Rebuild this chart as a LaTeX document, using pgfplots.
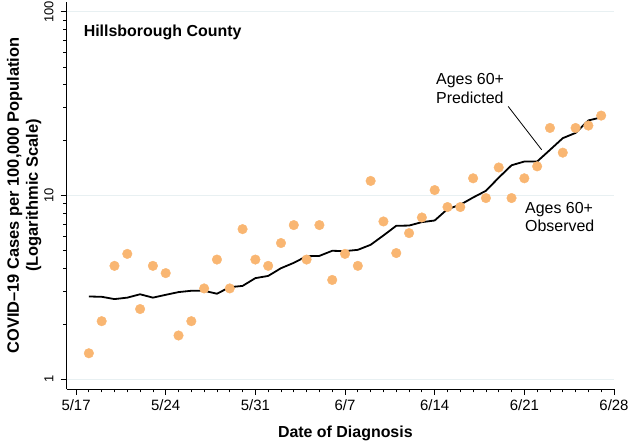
\documentclass[border=0pt]{standalone}
\usepackage{fontspec}
\setmainfont{Liberation Sans}
\usepackage{pgfplots}
\pgfplotsset{compat=1.18}
\definecolor{dotc}{HTML}{F9B672}
\definecolor{gridc}{HTML}{E8F0F2}
\begin{document}
\begin{tikzpicture}
\begin{semilogyaxis}[
    scale only axis,
    width=547.3bp, height=387bp,
    xmin=-0.73, xmax=42,
    ymin=0.885, ymax=112.9,
    axis x line*=bottom, axis y line*=left,
    axis line style={black, line width=0.8bp},
    tick align=outside,
    major tick length=6bp, minor tick length=3.5bp,
    tick style={black, line width=0.8bp},
    xtick={0,7,...,42},
    xticklabels={5/17,5/24,5/31,6/7,6/14,6/21,6/28},
    minor xtick={0,...,42},
    ytick={1,10,100},
    yticklabels={1,10,100},
    minor ytick={2,3,4,5,6,7,8,9,20,30,40,50,60,70,80,90},
    /pgf/number format/assume math mode=true,
    xticklabel style={font=\fontsize{15}{18}\selectfont, inner sep=0pt},
    xticklabel shift=5bp,
    yticklabel style={font=\fontsize{13}{15}\selectfont, rotate=90, anchor=south, inner sep=0pt},
    yticklabel shift=7bp,
    ymajorgrids,
    major grid style={gridc, line width=1bp},
    xlabel={Date of Diagnosis},
    every axis x label/.style={at={(axis description cs:0.5,0)}, anchor=base, yshift=-48.3bp, xshift=5bp, font=\bfseries\fontsize{16}{19}\selectfont},
    ylabel={COVID–19 Cases per 100,000 Population\\(Logarithmic Scale)},
    every axis y label/.style={at={(axis description cs:-0.1096,0.5)}, rotate=90, anchor=north, inner sep=0pt, align=center, font=\bfseries\fontsize{16.5}{19}\selectfont},
]
% observed
\addplot[color=dotc, only marks, mark=*, mark size=4.8bp, mark options={solid, fill=dotc, draw=dotc}] coordinates {
(1,1.385) (2,2.07) (3,4.14) (4,4.81) (5,2.41) (6,4.14) (7,3.78) (8,1.73)
(9,2.07) (10,3.12) (11,4.48) (12,3.12) (13,6.56) (14,4.48) (15,4.14) (16,5.51)
(17,6.90) (18,4.48) (19,6.90) (20,3.47) (21,4.81) (22,4.14) (23,12.0) (24,7.22)
(25,4.86) (26,6.24) (27,7.59) (28,10.7) (29,8.65) (30,8.65) (31,12.4) (32,9.68)
(33,14.2) (34,9.68) (35,12.4) (36,14.4) (37,23.3) (38,17.1) (39,23.3) (40,24.0)
(41,27.2)
};
% predicted
\addplot[black, line width=1.8bp, line join=round, no markers] coordinates {
(1,2.82) (2,2.81) (3,2.73) (4,2.78) (5,2.90) (6,2.78) (7,2.88) (8,2.98)
(9,3.03) (10,3.03) (11,2.92) (12,3.17) (13,3.22) (14,3.55) (15,3.65) (16,4.02)
(17,4.30) (18,4.67) (19,4.69) (20,5.00) (21,4.98) (22,5.06) (23,5.39) (24,6.06)
(25,6.84) (26,6.86) (27,7.16) (28,7.31) (29,8.43) (30,8.90) (31,9.75) (32,10.6)
(33,12.5) (34,14.6) (35,15.3) (36,15.3) (37,17.7) (38,20.5) (39,21.9) (40,25.6)
(41,26.6)
};
\node[anchor=base west, inner sep=0pt, font=\bfseries\fontsize{16}{19}\selectfont] at (axis cs:0.59,73.5) {Hillsborough County};
\node[anchor=base west, inner sep=0pt, font=\fontsize{16}{19}\selectfont] at (axis cs:28.1,40.1) {Ages 60+};
\node[anchor=base west, inner sep=0pt, font=\fontsize{16}{19}\selectfont] at (axis cs:28.1,31.6) {Predicted};
\node[anchor=base west, inner sep=0pt, font=\fontsize{16}{19}\selectfont] at (axis cs:35.05,8.02) {Ages 60+};
\node[anchor=base west, inner sep=0pt, font=\fontsize{16}{19}\selectfont] at (axis cs:35.05,6.34) {Observed};
\draw[black, line width=0.8bp] (axis cs:33.74,30.5) -- (axis cs:36.35,17.74);
\end{semilogyaxis}
\pgfresetboundingbox
\path ([shift={(-66.7bp,-53bp)}]current axis.south west) rectangle ([shift={(16bp,2bp)}]current axis.north east);
\end{tikzpicture}
\end{document}
